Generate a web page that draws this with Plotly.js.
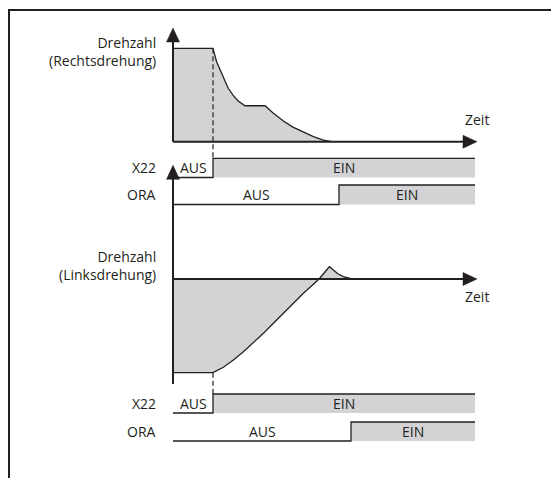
<!DOCTYPE html>
<html>
<head>
<meta charset="utf-8">
<script src="https://cdn.plot.ly/plotly-3.0.1.min.js"></script>
<style>
html,body{margin:0;padding:0;background:#fff;overflow:hidden;}
#wrap{position:relative;width:551px;height:478px;overflow:hidden;}
#chart{width:551px;height:478px;}
#frame{position:absolute;left:8px;top:9px;width:600px;height:520px;border-top:2px solid #231f20;border-left:2px solid #231f20;pointer-events:none;}
</style>
</head>
<body>
<div id="wrap"><div id="chart"></div><div id="frame"></div></div>
<script>
// ---- data ----
// Rechtsdrehung: time (arb. units) and speed (% of max)
const tRight = [0, 1.0, 1.09, 1.18, 1.26, 1.38, 1.51, 1.63, 1.8, 2.3, 2.51, 2.76, 3.01, 3.26, 3.51, 3.76, 3.97];
const nRight = [100, 100, 85.7, 76.8, 67.9, 57.2, 49.3, 43.6, 38.5, 38.5, 30.4, 22.2, 15.4, 10.1, 5.4, 1.8, 0];
// Linksdrehung
const tLeft = [0, 1.0, 1.26, 1.51, 1.76, 2.01, 2.26, 2.51, 2.76, 3.01, 3.26, 3.51, 3.65, 3.91, 4.01, 4.13, 4.26, 4.43, 4.47];
const nLeft = [-100, -100, -94.2, -86.4, -77.6, -68, -58, -47.3, -36.6, -25.9, -15.3, -5.7, 0, 13.1, 9.6, 5.3, 2.5, 0.7, 0];
// signals: switch time (AUS -> EIN)
const tEnd = 7.55;
const x22SwitchRight = 1.0;
const oraSwitchRight = 4.15;
const x22SwitchLeft = 1.0;
const oraSwitchLeft = 4.45;
const stateLabels = ['AUS', 'EIN'];
const signalNames = ['X22', 'ORA'];
const speedLabels = ['Drehzahl<br>(Rechtsdrehung)', 'Drehzahl<br>(Linksdrehung)'];
const timeLabel = 'Zeit';

// ---- layout geometry ----
const W = 551, H = 478;
const X0 = 173, PXU = 40;
const ink = '#231f20', fill = '#d3d3d5';
const FONT = {family: 'Open Sans, Noto Sans, sans-serif', size: 14, color: ink};

function yRange(v0, p0, v1, p1) {
  const k = (p0 - p1) / (v1 - v0);
  return [v0 - (H - p0) / k, v0 + p0 / k];
}
const axes = {
  y:  {r: yRange(0, 141.7, 100, 48.3)},
  y2: {r: yRange(0, 279, -100, 372.7)},
  y3: {r: yRange(0, 177.5, 1, 158.3)},
  y4: {r: yRange(0, 204.5, 1, 185)},
  y5: {r: yRange(0, 413, 1, 394)},
  y6: {r: yRange(0, 441, 1, 422)}
};
function px(t) { return X0 + PXU * t; }
function py(ax, v) { const r = axes[ax].r; return H - (v - r[0]) / (r[1] - r[0]) * H; }
function pX(p) { return p / W; }
function pY(p) { return 1 - p / H; }

function stepTrace(sw, ax) {
  return {x: [0, sw, sw, tEnd], y: [0, 0, 1, 1], yaxis: ax, mode: 'lines', fill: 'tozeroy',
    fillcolor: fill, line: {color: ink, width: 1.3}, hoverinfo: 'skip'};
}

const traces = [
  {x: tRight, y: nRight, yaxis: 'y', mode: 'lines', fill: 'tozeroy', fillcolor: fill,
   line: {color: ink, width: 1.3}, hoverinfo: 'skip'},
  {x: tLeft, y: nLeft, yaxis: 'y2', mode: 'lines', fill: 'tozeroy', fillcolor: fill,
   line: {color: ink, width: 1.3}, hoverinfo: 'skip'},
  stepTrace(x22SwitchRight, 'y3'),
  stepTrace(oraSwitchRight, 'y4'),
  stepTrace(x22SwitchLeft, 'y5'),
  stepTrace(oraSwitchLeft, 'y6')
];

const shapes = [];
function pline(x0, y0, x1, y1, w, dash) {
  shapes.push({type: 'line', xref: 'paper', yref: 'paper', x0: pX(x0), y0: pY(y0), x1: pX(x1), y1: pY(y1),
    line: {color: ink, width: w, dash: dash || 'solid'}});
}
function tri(pts) {
  const d = 'M' + pts.map(p => pX(p[0]) + ',' + pY(p[1])).join(' L') + ' Z';
  shapes.push({type: 'path', xref: 'paper', yref: 'paper', path: d, fillcolor: ink, line: {color: ink, width: 0.5}});
}
// axes with arrows
function axesPair(ax, yBottom) {
  const x0 = px(0), y0 = py(ax, 0);
  const xTip = px(7.6), yTip = y0 - 113.7;
  pline(x0, yBottom, x0, yTip + 13, 2);
  tri([[x0, yTip], [x0 - 6.5, yTip + 14], [x0 + 6.5, yTip + 14]]);
  pline(x0, y0, xTip - 13, y0, 2);
  tri([[xTip, y0], [xTip - 14, y0 - 6.5], [xTip - 14, y0 + 6.5]]);
  return [xTip, y0];
}
const zr = axesPair('y', py('y', 0));
const zl = axesPair('y2', 384);
// dashed switch markers
pline(px(x22SwitchRight), py('y', 100), px(x22SwitchRight), py('y3', 1), 1.2, '5px,3px');
pline(px(x22SwitchLeft), py('y2', -100), px(x22SwitchLeft), py('y5', 1), 1.2, '5px,3px');

const ann = [];
function txt(text, x, y, xanchor) {
  ann.push({text: text, xref: 'paper', yref: 'paper', x: pX(x), y: pY(y), xanchor: xanchor,
    yanchor: 'middle', showarrow: false, font: FONT, align: 'right'});
}
txt(speedLabels[0], 158, 51.5, 'right');
txt(speedLabels[1], 158, 265.5, 'right');
txt(timeLabel, zr[0], zr[1] - 22, 'center');
txt(timeLabel, zl[0], zl[1] + 17, 'center');
function rowLabels(name, sw, ax) {
  const yc = (py(ax, 0) + py(ax, 1)) / 2;
  txt(name, 158, yc, 'right');
  txt(stateLabels[0], px(sw / 2), yc, 'center');
  txt(stateLabels[1], px((sw + tEnd) / 2), yc, 'center');
}
rowLabels(signalNames[0], x22SwitchRight, 'y3');
rowLabels(signalNames[1], oraSwitchRight, 'y4');
rowLabels(signalNames[0], x22SwitchLeft, 'y5');
rowLabels(signalNames[1], oraSwitchLeft, 'y6');

function yax(key, over) {
  const o = {range: axes[key].r, visible: false, fixedrange: true, domain: [0, 1]};
  if (over) o.overlaying = 'y';
  return o;
}
const layout = {
  width: W, height: H, margin: {l: 0, r: 0, t: 0, b: 0},
  paper_bgcolor: '#fff', plot_bgcolor: '#fff', showlegend: false,
  xaxis: {range: [-X0 / PXU, (W - X0) / PXU], visible: false, fixedrange: true, domain: [0, 1]},
  yaxis: yax('y'), yaxis2: yax('y2', true), yaxis3: yax('y3', true),
  yaxis4: yax('y4', true), yaxis5: yax('y5', true), yaxis6: yax('y6', true),
  shapes: shapes, annotations: ann, font: FONT
};
Plotly.newPlot('chart', traces, layout, {staticPlot: true, displayModeBar: false});
</script>
</body>
</html>
